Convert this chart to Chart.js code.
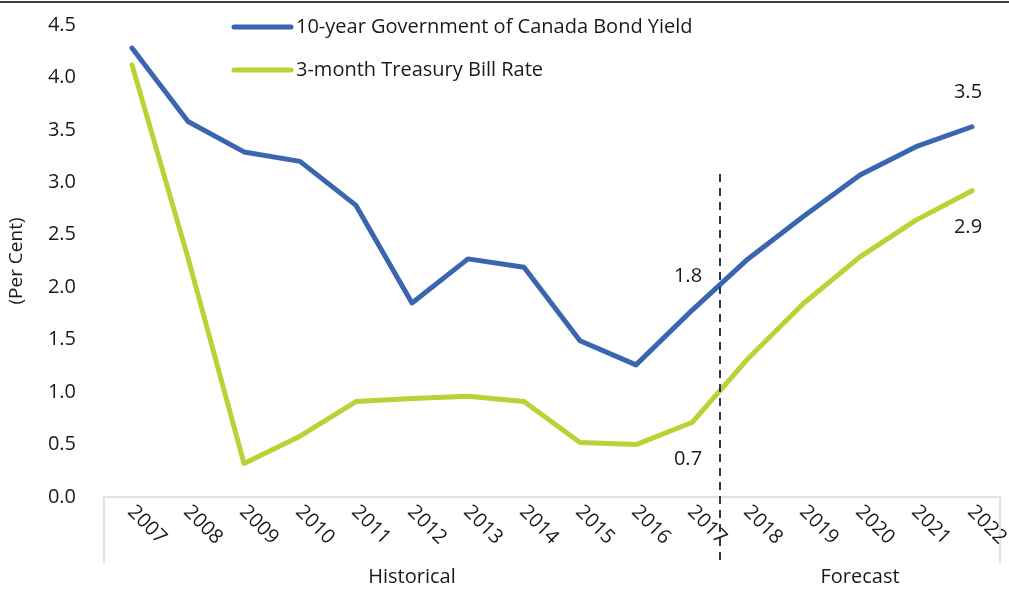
<!DOCTYPE html>
<html>
<head>
<meta charset="utf-8">
<script src="https://cdn.jsdelivr.net/npm/chart.js@4"></script>
<style>
  html, body { margin: 0; padding: 0; background: #fff; }
  #wrap { width: 1009px; height: 591px; position: relative; }
</style>
</head>
<body>
<div id="wrap"><canvas id="rates"></canvas></div>
<script>
const years = ['2007', '2008', '2009', '2010', '2011', '2012', '2013', '2014',
  '2015', '2016', '2017', '2018', '2019', '2020', '2021', '2022'];
const bondYield = [4.28, 3.58, 3.29, 3.20, 2.78, 1.85, 2.27, 2.19, 1.49, 1.26, 1.78,
  2.27, 2.68, 3.07, 3.34, 3.53];
const billRate = [4.12, 2.28, 0.32, 0.58, 0.91, 0.94, 0.96, 0.91, 0.52, 0.50, 0.71,
  1.32, 1.85, 2.29, 2.64, 2.92];
const yTicks = [0, 0.5, 1, 1.5, 2, 2.5, 3, 3.5, 4, 4.5];
const periods = ['Historical', 'Forecast'];
const lastActual = '2017';
// values shown next to the lines: [series index, year, above?]
const callouts = [[0, '2017', true], [1, '2017', false], [0, '2022', true], [1, '2022', false]];

const FONT = "'Open Sans', sans-serif";
const BLUE = '#3A66B1';
const GREEN = '#B6D434';

const extras = {
  id: 'extras',
  afterDraw(chart) {
    const ctx = chart.ctx;
    const x = chart.scales.x, y = chart.scales.y;
    const area = chart.chartArea;
    const boxBottom = area.bottom + 66;
    ctx.save();

    // frame line across the top
    ctx.strokeStyle = '#404040';
    ctx.lineWidth = 2;
    ctx.beginPath();
    ctx.moveTo(0, 2); ctx.lineTo(chart.width, 2);
    ctx.stroke();

    // category axis box
    ctx.strokeStyle = '#d9d9d9';
    ctx.lineWidth = 1.5;
    ctx.beginPath();
    ctx.moveTo(area.left, boxBottom);
    ctx.lineTo(area.left, area.bottom);
    ctx.lineTo(area.right, area.bottom);
    ctx.lineTo(area.right, boxBottom);
    ctx.stroke();

    // rotated year labels
    ctx.fillStyle = '#1a1a1a';
    ctx.font = '20px ' + FONT;
    ctx.textAlign = 'center';
    ctx.textBaseline = 'middle';
    years.forEach((yr, i) => {
      const px = x.getPixelForValue(i);
      ctx.save();
      ctx.translate(px + 15, area.bottom + 28);
      ctx.rotate(Math.PI / 4);
      ctx.fillText(yr, 0, 0);
      ctx.restore();
    });

    // split between actual and forecast years
    const iLast = years.indexOf(lastActual);
    const split = (x.getPixelForValue(iLast) + x.getPixelForValue(iLast + 1)) / 2;
    ctx.strokeStyle = '#1F3864';
    ctx.lineWidth = 2;
    ctx.setLineDash([8, 6]);
    ctx.beginPath();
    ctx.moveTo(split, y.getPixelForValue(3.08));
    ctx.lineTo(split, boxBottom);
    ctx.stroke();
    ctx.setLineDash([]);

    ctx.font = '20px ' + FONT;
    ctx.fillText(periods[0], (area.left + split) / 2, area.bottom + 80);
    ctx.fillText(periods[1], (split + area.right) / 2, area.bottom + 80);

    // value callouts
    callouts.forEach(([ds, yr, above]) => {
      const i = years.indexOf(yr);
      const v = chart.data.datasets[ds].data[i];
      const px = x.getPixelForValue(i) - 4;
      const py = y.getPixelForValue(v) + (above ? -34 : 37);
      ctx.fillText(v.toFixed(1), px, py);
    });

    // legend
    ctx.textAlign = 'left';
    ctx.lineCap = 'round';
    chart.data.datasets.forEach((d, k) => {
      const ly = 27 + k * 43;
      ctx.strokeStyle = d.borderColor;
      ctx.lineWidth = 5;
      ctx.beginPath();
      ctx.moveTo(234, ly); ctx.lineTo(291, ly);
      ctx.stroke();
      ctx.fillText(d.label, 296, ly);
    });
    ctx.restore();
  }
};

new Chart(document.getElementById('rates'), {
  type: 'line',
  data: {
    labels: years,
    datasets: [
      { label: '10-year Government of Canada Bond Yield', data: bondYield,
        borderColor: BLUE, backgroundColor: BLUE },
      { label: '3-month Treasury Bill Rate', data: billRate,
        borderColor: GREEN, backgroundColor: GREEN }
    ]
  },
  options: {
    responsive: true,
    maintainAspectRatio: false,
    animation: false,
    layout: { padding: { top: 25, right: 9, left: 0, bottom: 0 } },
    elements: {
      line: { borderWidth: 5, tension: 0, borderCapStyle: 'round', borderJoinStyle: 'round' },
      point: { radius: 0, hoverRadius: 0 }
    },
    plugins: { legend: { display: false }, tooltip: { enabled: false } },
    scales: {
      x: {
        offset: true,
        grid: { display: false, drawTicks: false },
        border: { display: false },
        ticks: { display: false },
        afterFit(s) { s.height = 94; s.paddingLeft = 0; s.paddingRight = 0; }
      },
      y: {
        min: 0, max: 4.5,
        afterBuildTicks(s) { s.ticks = yTicks.map(v => ({ value: v })); },
        afterFit(s) { s.width = 104; s.paddingTop = 0; s.paddingBottom = 0; },
        grid: { display: false, drawTicks: false },
        border: { display: false },
        ticks: {
          padding: 28,
          color: '#1a1a1a',
          font: { family: FONT, size: 20 },
          callback: v => v.toFixed(1)
        },
        title: {
          display: true,
          text: '(Per Cent)',
          color: '#1a1a1a',
          font: { family: FONT, size: 19 },
          padding: { top: 5, bottom: 0 }
        }
      }
    }
  },
  plugins: [extras]
});
</script>
</body>
</html>
